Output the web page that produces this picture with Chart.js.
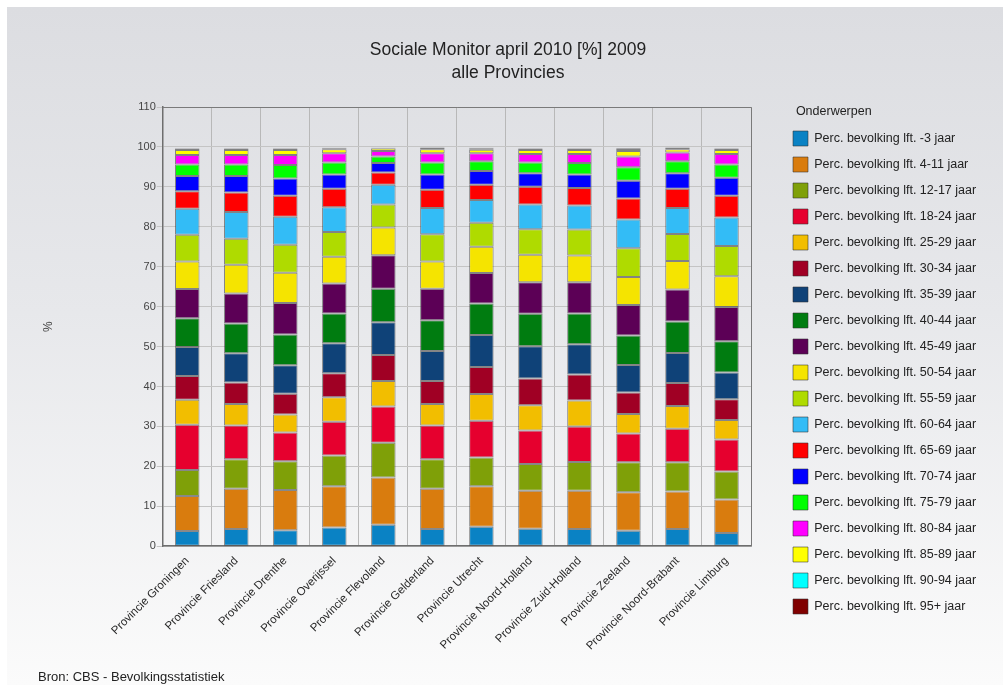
<!DOCTYPE html>
<html>
<head>
<meta charset="utf-8">
<script src="https://cdn.jsdelivr.net/npm/chart.js@4"></script>
<style>
  html, body { margin: 0; padding: 0; background: #fff; }
  #wrap {
    position: absolute; left: 7px; top: 7px; width: 996px; height: 678px;
    background: linear-gradient(#dcdde1 0%, #e7e8eb 45%, #fbfbfb 100%);
  }
</style>
</head>
<body>
<div id="wrap"><canvas id="chart" width="996" height="678"></canvas></div>
<script>
const provinces = ['Provincie Groningen', 'Provincie Friesland', 'Provincie Drenthe', 'Provincie Overijssel',
    'Provincie Flevoland', 'Provincie Gelderland', 'Provincie Utrecht', 'Provincie Noord-Holland',
    'Provincie Zuid-Holland', 'Provincie Zeeland', 'Provincie Noord-Brabant', 'Provincie Limburg'];

// one array per age group, provinces in the order above
const age0_3   = [3.8, 4.3, 4.0, 4.7, 5.4, 4.3, 4.9, 4.4, 4.3, 3.9, 4.3, 3.3];
const age4_11  = [8.8, 10.1, 10.1, 10.3, 11.8, 10.1, 10.1, 9.5, 9.6, 9.6, 9.4, 8.4];
const age12_17 = [6.5, 7.4, 7.2, 7.7, 8.7, 7.4, 7.2, 6.7, 7.2, 7.5, 7.3, 7.0];
const age18_24 = [11.3, 8.4, 7.2, 8.5, 9.1, 8.4, 9.2, 8.4, 8.9, 7.2, 8.4, 8.0];
const age25_29 = [6.3, 5.4, 4.5, 6.1, 6.4, 5.4, 6.7, 6.3, 6.5, 4.9, 5.7, 4.9];
const age30_34 = [5.9, 5.4, 5.2, 6.0, 6.5, 5.8, 6.8, 6.7, 6.5, 5.4, 5.8, 5.2];
const age35_39 = [7.3, 7.3, 7.1, 7.5, 8.2, 7.5, 8.0, 8.1, 7.6, 6.9, 7.5, 6.7];
const age40_44 = [7.2, 7.5, 7.7, 7.5, 8.4, 7.7, 7.9, 8.1, 7.7, 7.4, 7.9, 7.8];
const age45_49 = [7.3, 7.5, 7.9, 7.5, 8.4, 7.9, 7.6, 7.9, 7.8, 7.6, 8.0, 8.6];
const age50_54 = [6.9, 7.2, 7.6, 6.7, 6.9, 6.8, 6.6, 6.9, 6.7, 7.0, 7.1, 7.7];
const age55_59 = [6.7, 6.5, 7.0, 6.2, 5.8, 6.8, 6.0, 6.4, 6.5, 7.2, 6.8, 7.6];
const age60_64 = [6.5, 6.7, 7.0, 6.2, 4.9, 6.6, 5.7, 6.2, 6.0, 7.2, 6.5, 7.1];
const age65_69 = [4.4, 4.9, 5.3, 4.6, 3.1, 4.6, 3.8, 4.4, 4.4, 5.3, 4.8, 5.5];
const age70_74 = [3.8, 4.1, 4.3, 3.6, 2.4, 3.8, 3.5, 3.4, 3.4, 4.4, 3.9, 4.5];
const age75_79 = [2.9, 2.9, 3.4, 3.0, 1.6, 3.0, 2.4, 2.7, 2.9, 3.4, 3.0, 3.3];
const age80_84 = [2.4, 2.4, 2.5, 2.3, 1.4, 2.3, 2.0, 2.1, 2.2, 2.7, 2.2, 2.6];
const age85_89 = [1.2, 1.2, 1.2, 1.0, 0.6, 1.0, 0.9, 1.0, 1.0, 1.4, 0.8, 1.0];
const age90_94 = [0.4, 0.4, 0.4, 0.3, 0.15, 0.35, 0.4, 0.4, 0.4, 0.5, 0.35, 0.4];
const age95up  = [0.1, 0.1, 0.1, 0.1, 0.05, 0.1, 0.1, 0.1, 0.1, 0.15, 0.1, 0.1];

const yTicks = [0, 10, 20, 30, 40, 50, 60, 70, 80, 90, 100, 110];

const series = [
    ['Perc. bevolking lft. -3 jaar',    age0_3,   '#0a82c4'],
    ['Perc. bevolking lft. 4-11 jaar',  age4_11,  '#d97c0e'],
    ['Perc. bevolking lft. 12-17 jaar', age12_17, '#7fa008'],
    ['Perc. bevolking lft. 18-24 jaar', age18_24, '#e6002e'],
    ['Perc. bevolking lft. 25-29 jaar', age25_29, '#f2be00'],
    ['Perc. bevolking lft. 30-34 jaar', age30_34, '#a00024'],
    ['Perc. bevolking lft. 35-39 jaar', age35_39, '#0f4278'],
    ['Perc. bevolking lft. 40-44 jaar', age40_44, '#007c10'],
    ['Perc. bevolking lft. 45-49 jaar', age45_49, '#5c0056'],
    ['Perc. bevolking lft. 50-54 jaar', age50_54, '#f5e400'],
    ['Perc. bevolking lft. 55-59 jaar', age55_59, '#afdb00'],
    ['Perc. bevolking lft. 60-64 jaar', age60_64, '#33bcf6'],
    ['Perc. bevolking lft. 65-69 jaar', age65_69, '#ff0000'],
    ['Perc. bevolking lft. 70-74 jaar', age70_74, '#0000ff'],
    ['Perc. bevolking lft. 75-79 jaar', age75_79, '#00ff00'],
    ['Perc. bevolking lft. 80-84 jaar', age80_84, '#ff00ff'],
    ['Perc. bevolking lft. 85-89 jaar', age85_89, '#ffff00'],
    ['Perc. bevolking lft. 90-94 jaar', age90_94, '#00ffff'],
    ['Perc. bevolking lft. 95+ jaar',   age95up,  '#800000'],
];

const FONT = "'Liberation Sans', Arial, sans-serif";
const LEGEND_GAP = 31;   // empty space between plot frame and legend
const LEGEND_W = 243;

// frame round the plot area, legend spacing, source line at the bottom
const framePlugin = {
    id: 'frame',
    beforeLayout(c) {
        const lg = c.legend;
        if (lg && !lg._widened) {
            const fit = lg.fit;
            lg.fit = function () { fit.call(this); this.width = LEGEND_W; };
            lg._widened = true;
        }
    },
    afterLayout(c) {
        c.legend.left += LEGEND_GAP;
    },
    beforeDatasetsDraw(c) {
        const a = c.chartArea, ctx = c.ctx;
        ctx.save();
        ctx.strokeStyle = '#7a7a7a';
        ctx.lineWidth = 1;
        ctx.beginPath();
        ctx.moveTo(a.left, a.top + 0.5);
        ctx.lineTo(a.right + 0.5, a.top + 0.5);
        ctx.lineTo(a.right + 0.5, a.bottom);
        ctx.stroke();
        ctx.restore();
    },
    afterDraw(c) {
        const ctx = c.ctx;
        ctx.save();
        ctx.font = '13px ' + FONT;
        ctx.fillStyle = '#222';
        ctx.textBaseline = 'middle';
        ctx.fillText('Bron: CBS - Bevolkingsstatistiek', 31, 670);
        ctx.restore();
    },
};

new Chart(document.getElementById('chart'), {
    type: 'bar',
    data: {
        labels: provinces,
        datasets: series.map(([label, data, color]) => ({
            label,
            data,
            backgroundColor: color,
            borderColor: 'rgba(50,50,50,0.55)',
            borderWidth: 1,
            borderSkipped: false,
            barPercentage: 0.5,
            categoryPercentage: 1,
        })),
    },
    plugins: [framePlugin],
    options: {
        responsive: false,
        animation: false,
        layout: { padding: { left: 15, right: 9, bottom: 24 } },
        plugins: {
            title: {
                display: true,
                text: ['Sociale Monitor april 2010 [%] 2009', 'alle Provincies'],
                color: '#222',
                font: { family: FONT, size: 17.5, weight: 'normal', lineHeight: 1.32 },
                padding: { top: 31.5, bottom: 22.3 },
            },
            legend: {
                position: 'right',
                align: 'start',
                title: {
                    display: true,
                    position: 'start',
                    text: '\u00a0\u00a0\u00a0\u00a0Onderwerpen',
                    color: '#222',
                    font: { family: FONT, size: 12.5 },
                    padding: { top: 98.5, bottom: -0.5 },
                },
                labels: {
                    color: '#222',
                    font: { family: FONT, size: 12.5 },
                    boxWidth: 15,
                    boxHeight: 15,
                    padding: 11,
                },
            },
            tooltip: { enabled: false },
        },
        scales: {
            x: {
                stacked: true,
                grid: { color: '#b8b8b8', drawTicks: false },
                border: { color: '#6e6e6e', width: 1.5 },
                ticks: { color: '#2a2a2a', font: { family: FONT, size: 11.5 }, minRotation: 45, maxRotation: 45, padding: 8 },
            },
            y: {
                stacked: true,
                min: 0,
                max: 110,
                afterBuildTicks: s => { s.ticks = yTicks.map(v => ({ value: v })); },
                grid: { color: '#c4c4c4', tickLength: 6 },
                border: { color: '#6e6e6e', width: 1.5 },
                ticks: { color: '#444', font: { family: FONT, size: 11 }, padding: 1 },
                title: {
                    display: true,
                    text: '%',
                    color: '#444',
                    font: { family: FONT, size: 12 },
                    padding: { top: 19, bottom: 81 },
                },
            },
        },
    },
});
</script>
</body>
</html>
